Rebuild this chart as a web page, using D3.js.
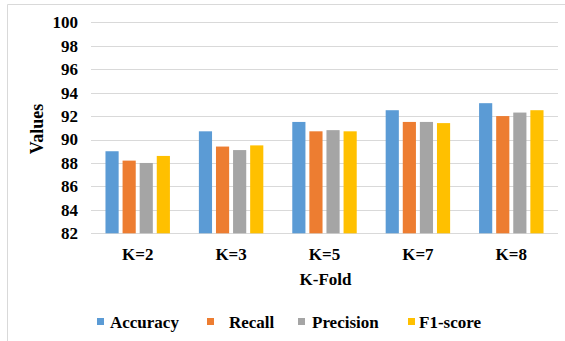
<!DOCTYPE html>
<html>
<head>
<meta charset="utf-8">
<script src="https://cdn.jsdelivr.net/npm/d3@7"></script>
<style>
  html, body { margin: 0; padding: 0; background: #fff; }
</style>
</head>
<body>
<svg id="chart" width="565" height="341"></svg>
<script>
// K-fold cross-validation results
const folds = ["K=2", "K=3", "K=5", "K=7", "K=8"];
const metrics = ["Accuracy", "Recall", "Precision", "F1-score"];
const accuracy  = [89.0, 90.7, 91.5, 92.5, 93.1];
const recall    = [88.2, 89.4, 90.7, 91.5, 92.0];
const precision = [88.0, 89.1, 90.8, 91.5, 92.3];
const f1score   = [88.6, 89.5, 90.7, 91.4, 92.5];
const yTicks = [82, 84, 86, 88, 90, 92, 94, 96, 98, 100];
const colors = ["#5b9bd5", "#ed7d31", "#a5a5a5", "#ffc000"];

const FONT = "'Liberation Serif', 'Times New Roman', 'DejaVu Serif', serif";

const seriesValues = [accuracy, recall, precision, f1score];
const rows = folds.map((f, i) => ({ fold: f, values: metrics.map((m, j) => ({ metric: m, value: seriesValues[j][i] })) }));

const svg = d3.select("#chart");
const W = 565, H = 341;
const plotLeft = 91, plotRight = 558, plotTop = 22.3, plotBottom = 233.3;

// outer frame (top and left edges)
svg.append("line").attr("x1", 7.5).attr("x2", W).attr("y1", 4.5).attr("y2", 4.5).attr("stroke", "#d9d9d9");
svg.append("line").attr("x1", 7.5).attr("x2", 7.5).attr("y1", 4.5).attr("y2", H).attr("stroke", "#d9d9d9");

const x = d3.scaleBand().domain(folds).range([plotLeft, plotRight]).paddingInner(0.31).paddingOuter(0.155);
const xi = d3.scaleBand().domain(metrics).range([0, x.bandwidth()]).paddingInner(0.23);
const y = d3.scaleLinear().domain([82, 100]).range([plotBottom, plotTop]);

// gridlines
svg.append("g").selectAll("line").data(yTicks).join("line")
  .attr("x1", plotLeft).attr("x2", plotRight)
  .attr("y1", d => Math.round(y(d)) + 0.5).attr("y2", d => Math.round(y(d)) + 0.5)
  .attr("stroke", "#d9d9d9").attr("stroke-width", 1);

// y axis labels
const yAxis = svg.append("g").attr("transform", `translate(${plotLeft - 13},0)`)
  .call(d3.axisLeft(y).tickValues(yTicks).tickSize(0).tickPadding(0));
yAxis.select(".domain").remove();
yAxis.attr("font-family", FONT).attr("font-size", 17).attr("font-weight", "bold");
yAxis.selectAll("text").attr("fill", "#000");

// bars
svg.append("g").selectAll("g").data(rows).join("g")
  .attr("transform", d => `translate(${x(d.fold)},0)`)
  .selectAll("rect").data(d => d.values).join("rect")
  .attr("x", d => xi(d.metric))
  .attr("width", xi.bandwidth())
  .attr("y", d => y(d.value))
  .attr("height", d => y(82) - y(d.value))
  .attr("fill", (d, i) => colors[i]);

// x axis labels
const xAxis = svg.append("g").attr("transform", `translate(0,${plotBottom + 14.5})`)
  .call(d3.axisBottom(x).tickSize(0).tickPadding(0));
xAxis.select(".domain").remove();
xAxis.attr("font-family", FONT).attr("font-size", 17).attr("font-weight", "bold");
xAxis.selectAll("text").attr("fill", "#000").attr("dy", "0.71em");

// axis titles
svg.append("text").attr("x", (plotLeft + plotRight) / 2 + 1).attr("y", 285)
  .attr("text-anchor", "middle").attr("font-family", FONT).attr("font-weight", "bold")
  .attr("font-size", 17).text("K-Fold");
svg.append("text").attr("transform", `translate(43,129) rotate(-90)`)
  .attr("text-anchor", "middle").attr("font-family", FONT).attr("font-weight", "bold")
  .attr("font-size", 18).text("Values");

// legend
const legendX = [97, 207, 298, 408];
const legendTextX = [110, 229, 312, 419];
const lg = svg.append("g").selectAll("g").data(metrics).join("g");
lg.append("rect").attr("x", (d, i) => legendX[i]).attr("y", 318).attr("width", 7).attr("height", 7)
  .attr("fill", (d, i) => colors[i]);
lg.append("text").attr("x", (d, i) => legendTextX[i]).attr("y", 328)
  .attr("font-family", FONT).attr("font-weight", "bold")
  .attr("font-size", 17).text(d => d);
</script>
</body>
</html>
